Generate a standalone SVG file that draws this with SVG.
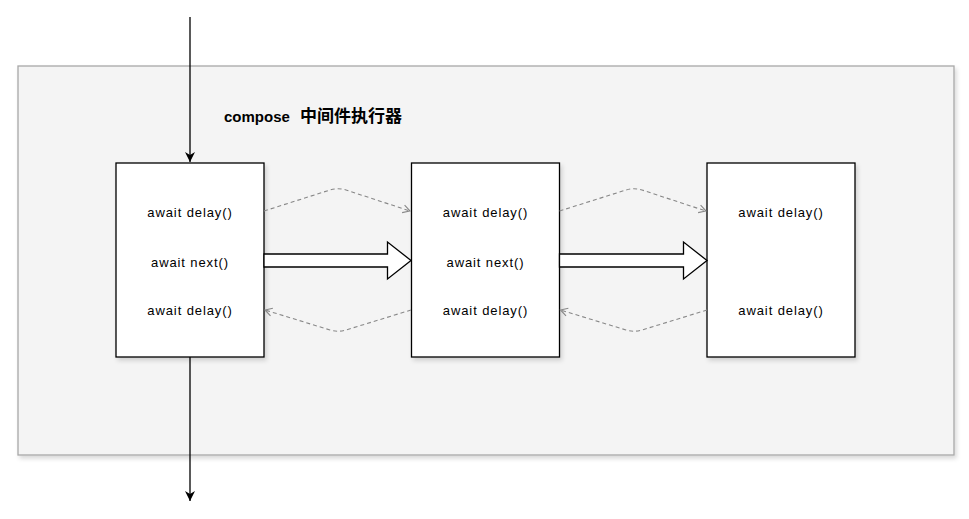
<svg xmlns="http://www.w3.org/2000/svg" width="969" height="519" viewBox="0 0 969 519">
<style>
.box{fill:#ffffff;stroke:#000000;stroke-width:1.3}
.lbl{font-family:"Comic Sans MS","Liberation Sans","Noto Sans CJK SC",sans-serif;font-size:13px;letter-spacing:0.9px;fill:#000;text-anchor:middle}
.title{font-family:"Comic Sans MS","Liberation Sans","Noto Sans CJK SC",sans-serif;font-size:15px;font-weight:bold;fill:#000}
.dash{fill:none;stroke:#888888;stroke-width:1.1;stroke-dasharray:4 3}
.flow{fill:none;stroke:#000;stroke-width:1.3}
.block{fill:#ffffff;stroke:#000;stroke-width:1.3;stroke-linejoin:miter}
</style>
<defs>
<filter id="sh" x="-10%" y="-10%" width="130%" height="130%">
<feDropShadow dx="2" dy="3" stdDeviation="2" flood-color="#000" flood-opacity="0.15"/>
</filter>
<marker id="open" markerWidth="10" markerHeight="10" refX="8" refY="5" orient="auto" markerUnits="userSpaceOnUse">
<path d="M1,1 L8,5 L1,9" fill="none" stroke="#888888" stroke-width="1.1"/>
</marker>
<marker id="solid" markerWidth="12" markerHeight="12" refX="10" refY="6" orient="auto" markerUnits="userSpaceOnUse">
<path d="M0,1 L10,6 L0,11 L3,6 Z" fill="#000"/>
</marker>
</defs>
<g id="container">
<rect x="18" y="66" width="936" height="389" fill="#f4f4f4" stroke="#a8a8a8" stroke-width="1.3" filter="url(#sh)"/>
<text class="title" x="224" y="122">compose<tspan x="300" font-size="17">中间件执行器</tspan></text>
</g>
<g id="node1">
<rect class="box" x="116" y="163" width="148" height="194" filter="url(#sh)"/>
<text class="lbl" x="190" y="217">await delay()</text>
<text class="lbl" x="190" y="267">await next()</text>
<text class="lbl" x="190" y="315">await delay()</text>
</g>
<g id="node2">
<rect class="box" x="411.5" y="163" width="148" height="194" filter="url(#sh)"/>
<text class="lbl" x="485.5" y="217">await delay()</text>
<text class="lbl" x="485.5" y="267">await next()</text>
<text class="lbl" x="485.5" y="315">await delay()</text>
</g>
<g id="node3">
<rect class="box" x="707" y="163" width="148" height="194" filter="url(#sh)"/>
<text class="lbl" x="781" y="217">await delay()</text>
<text class="lbl" x="781" y="315">await delay()</text>
</g>
<g id="connectors">
<path class="flow" d="M190,17 L190,162" marker-end="url(#solid)"/>
<path class="flow" d="M190,357 L190,501" marker-end="url(#solid)"/>
<path class="block" d="M264,254 L387.5,254 L387.5,242 L411,260.5 L387.5,279 L387.5,267 L264,267 Z"/>
<path class="block" d="M559.5,254 L683.5,254 L683.5,242 L707,260.5 L683.5,279 L683.5,267 L559.5,267 Z"/>
<path class="dash" d="M264,211 L330,190 Q338,187.5 346,190 L410,211" marker-end="url(#open)"/>
<path class="dash" d="M559.5,211 L626,190 Q634,187.5 642,190 L706,211" marker-end="url(#open)"/>
<path class="dash" d="M411,310 L346,330 Q338,332.5 330,330 L265,310" marker-end="url(#open)"/>
<path class="dash" d="M707,310 L642,330 Q634,332.5 626,330 L560.5,310" marker-end="url(#open)"/>
</g>
</svg>
